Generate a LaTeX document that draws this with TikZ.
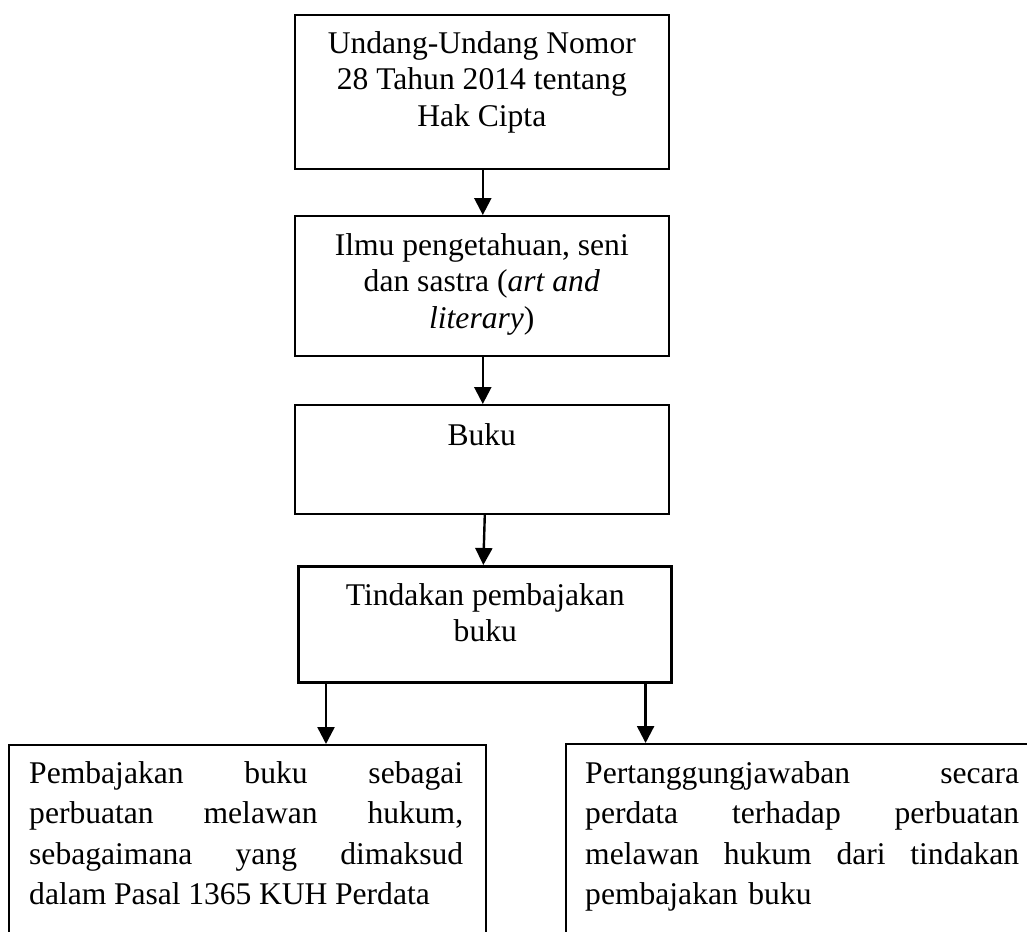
\documentclass[tikz,border=0pt]{standalone}
\usepackage{fontspec}
\setmainfont{Liberation Serif}
\usetikzlibrary{arrows.meta}
\tikzset{
  box/.style={draw=black, line width=1.6pt, rectangle, inner sep=0pt, anchor=north west},
  txt/.style={inner sep=0pt, align=center, anchor=north, font=\fontsize{31.6}{36.7}\selectfont},
  jtxt/.style={inner sep=0pt, align=left, text width=434pt, anchor=north west, font=\fontsize{31.6}{40.5}\selectfont},
  arr/.style={line width=2.4pt, -{Triangle[width=17pt,length=17pt]}}
}
\begin{document}
\begin{tikzpicture}[x=1pt,y=-1pt]
\useasboundingbox (0,0) rectangle (1027,931);
\clip (0,0) rectangle (1027,931);
\node[box, minimum width=374pt, minimum height=154pt] (b1) at (294,14) {};
\node[box, minimum width=374pt, minimum height=140pt] (b2) at (294,215) {};
\node[box, minimum width=374pt, minimum height=109pt] (b3) at (294,404) {};
\node[box, line width=2.6pt, minimum width=373pt, minimum height=116pt] (b4) at (297,565) {};
\node[box, minimum width=477pt, minimum height=240pt] (b5) at (8,744) {};
\node[box, minimum width=520pt, minimum height=240pt] (b6) at (565,743) {};

\node[txt] (t1) at ([yshift=-13.3pt]b1.north) {\strut Undang-Undang Nomor\\28 Tahun 2014 tentang\\Hak Cipta};
\node[txt] (t2) at ([yshift=-14.3pt]b2.north) {\strut Ilmu pengetahuan, seni\\dan sastra (\textit{art and}\\\textit{literary})};
\node[txt] (t3) at ([yshift=-15.3pt]b3.north) {\strut Buku};
\node[txt] (t4) at ([xshift=0.5pt,yshift=-14.3pt]b4.north) {\strut Tindakan pembajakan\\buku};

\node[jtxt] (t5) at ([xshift=21pt,yshift=-10.6pt]b5.north west) {\strut Pembajakan\hfill buku\hfill sebagai\\perbuatan\hfill melawan\hfill hukum,\\sebagaimana\hfill yang\hfill dimaksud\\\mbox{\spaceskip=0.24em dalam Pasal 1365 KUH Perdata}};
\node[jtxt] (t6) at ([xshift=20pt,yshift=-11.6pt]b6.north west) {\strut Pertanggungjawaban\hfill secara\\perdata\hfill terhadap\hfill perbuatan\\melawan\hfill hukum\hfill dari\hfill tindakan\\\mbox{pembajakan buku}};

\draw[arr] ([xshift=1pt]b1.south) -- ([xshift=1pt]b2.north);
\draw[arr] ([xshift=1pt]b2.south) -- ([xshift=1pt]b3.north);
\draw[arr] ([xshift=3pt]b3.south) -- ([xshift=-1.5pt]b4.north);
\coordinate (s1) at ([xshift=29pt]b4.south west);
\coordinate (s2) at ([xshift=-27pt]b4.south east);
\draw[arr] (s1) -- (s1 |- b5.north);
\draw[arr] (s2) -- (s2 |- b6.north);
\end{tikzpicture}
\end{document}
